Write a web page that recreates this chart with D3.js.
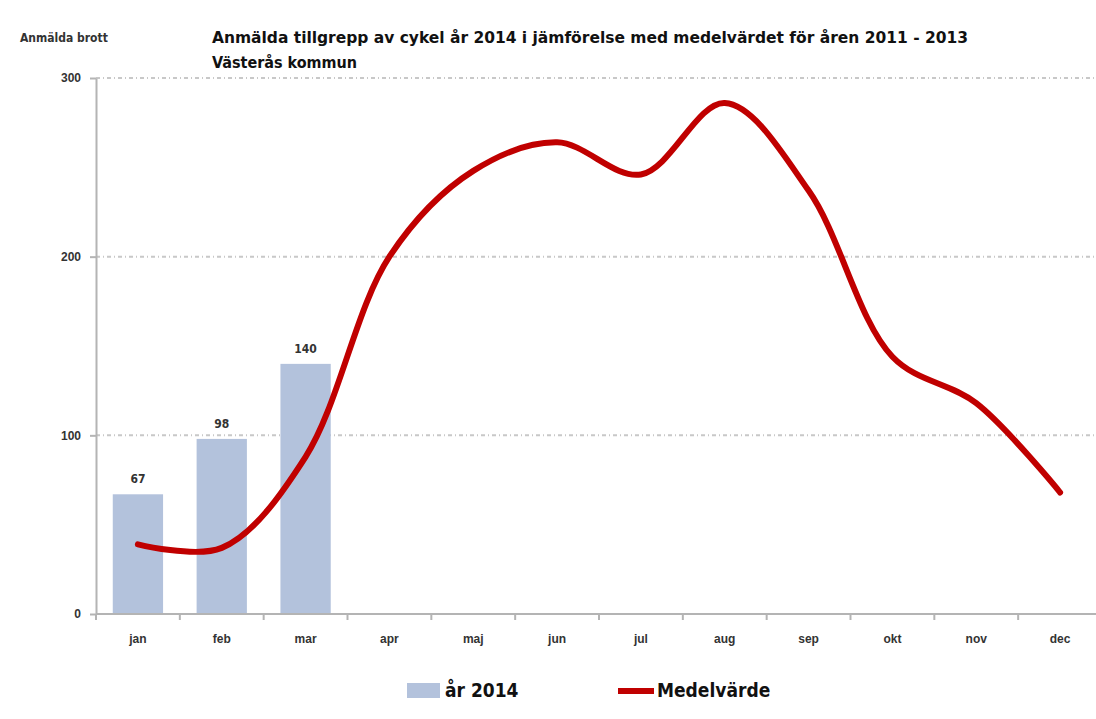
<!DOCTYPE html>
<html>
<head>
<meta charset="utf-8">
<script src="https://cdn.jsdelivr.net/npm/d3@7"></script>
<style>
  body { margin: 0; background: #fff; }
  svg { font-family: "Liberation Sans Narrow", "DejaVu Sans Condensed", "Liberation Sans", sans-serif; }
  .axis path, .axis line { stroke: #b4b4b4; stroke-width: 2; }
  .axis text { fill: #333; font-size: 12px; font-weight: bold; }
</style>
</head>
<body>
<svg width="1096" height="719"></svg>
<script>
var months = ['jan', 'feb', 'mar', 'apr', 'maj', 'jun', 'jul', 'aug', 'sep', 'okt', 'nov', 'dec'];
var bars2014 = [67, 98, 140];
var meanValues = [39, 37, 88, 200, 248, 264, 246, 286, 237, 144, 118, 68];
var yTicks = [0, 100, 200, 300];

var svg = d3.select('svg');
var padding = {t: 78, l: 96, b: 614, r: 1102};

var xScale = d3.scaleBand()
    .domain(months)
    .range([padding.l, padding.r])
    .paddingInner(0.4)
    .paddingOuter(0.2);

var yScale = d3.scaleLinear()
    .domain([0, 300])
    .range([padding.b, padding.t]);

// gridlines
svg.append('g')
    .selectAll('line')
    .data(yTicks.slice(1))
    .enter()
    .append('line')
    .attr('x1', padding.l)
    .attr('x2', padding.r)
    .attr('y1', function(d) { return yScale(d); })
    .attr('y2', function(d) { return yScale(d); })
    .attr('stroke', '#c8c8c8')
    .attr('stroke-width', 2)
    .attr('stroke-dasharray', '4,3,1,3');

// bars
svg.append('g')
    .selectAll('rect')
    .data(bars2014)
    .enter()
    .append('rect')
    .attr('x', function(d, i) { return xScale(months[i]); })
    .attr('y', function(d) { return yScale(d); })
    .attr('width', xScale.bandwidth())
    .attr('height', function(d) { return yScale(0) - yScale(d); })
    .attr('fill', '#b3c2dc');

svg.append('g')
    .selectAll('text')
    .data(bars2014)
    .enter()
    .append('text')
    .attr('x', function(d, i) { return xScale(months[i]) + xScale.bandwidth() / 2; })
    .attr('y', function(d) { return yScale(d) - 11; })
    .attr('text-anchor', 'middle')
    .style('font-size', '12px')
    .style('font-weight', 'bold')
    .style('fill', '#333')
    .text(function(d) { return d; });

// axes
var xAxis = d3.axisBottom(xScale).tickSize(0).tickPadding(20);
var gx = svg.append('g')
    .attr('class', 'axis')
    .attr('transform', 'translate(0,' + padding.b + ')')
    .call(xAxis);
gx.select('.domain').attr('d', 'M' + padding.l + ',0H' + padding.r);
// tick marks between categories
gx.selectAll('.sep')
    .data(months)
    .enter()
    .append('line')
    .attr('class', 'sep')
    .attr('x1', function(d) { return xScale(d) - xScale.step() * xScale.paddingInner() / 2; })
    .attr('x2', function(d) { return xScale(d) - xScale.step() * xScale.paddingInner() / 2; })
    .attr('y1', 0)
    .attr('y2', 6);

var yAxis = d3.axisLeft(yScale).tickValues(yTicks).tickSize(6).tickSizeOuter(0).tickPadding(9);
svg.append('g')
    .attr('class', 'axis')
    .attr('transform', 'translate(' + padding.l + ',0)')
    .call(yAxis);

// mean line
var line = d3.line()
    .x(function(d, i) { return xScale(months[i]) + xScale.bandwidth() / 2; })
    .y(function(d) { return yScale(d); })
    .curve(d3.curveCatmullRom.alpha(0.5));

svg.append('path')
    .datum(meanValues)
    .attr('d', line)
    .attr('fill', 'none')
    .attr('stroke', '#c00000')
    .attr('stroke-width', 6)
    .attr('stroke-linecap', 'round');

// titles
svg.append('text')
    .attr('x', 20)
    .attr('y', 42)
    .style('font-size', '12px')
    .style('font-weight', 'bold')
    .style('fill', '#333')
    .text('Anmälda brott');

svg.append('text')
    .attr('x', 212)
    .attr('y', 43)
    .attr('textLength', 756)
    .attr('lengthAdjust', 'spacingAndGlyphs')
    .style('font-size', '16px')
    .style('font-weight', 'bold')
    .style('fill', '#111')
    .text('Anmälda tillgrepp av cykel år 2014 i jämförelse med medelvärdet för åren 2011 - 2013');

svg.append('text')
    .attr('x', 212)
    .attr('y', 68)
    .style('font-size', '16px')
    .style('font-weight', 'bold')
    .style('fill', '#111')
    .text('Västerås kommun');

// legend
var legend = svg.append('g');
legend.append('rect')
    .attr('x', 407).attr('y', 683)
    .attr('width', 33).attr('height', 15)
    .attr('fill', '#b3c2dc');
legend.append('text')
    .attr('x', 445).attr('y', 697)
    .style('font-size', '19px')
    .style('font-weight', 'bold')
    .style('fill', '#111')
    .text('år 2014');
legend.append('line')
    .attr('x1', 618).attr('x2', 654)
    .attr('y1', 691).attr('y2', 691)
    .attr('stroke', '#c00000')
    .attr('stroke-width', 6);
legend.append('text')
    .attr('x', 657).attr('y', 697)
    .style('font-size', '19px')
    .style('font-weight', 'bold')
    .style('fill', '#111')
    .text('Medelvärde');
</script>
</body>
</html>
